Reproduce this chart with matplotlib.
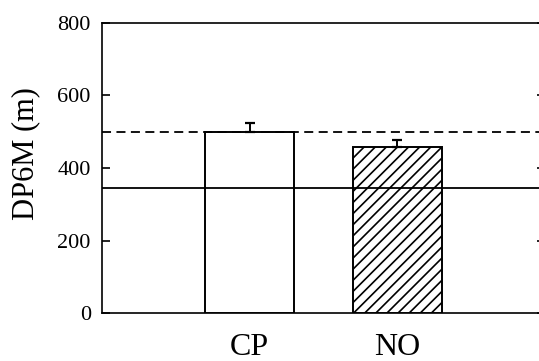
import numpy as np
import matplotlib
matplotlib.use("Agg")
import matplotlib.pyplot as plt

groups = ["CP", "NO"]
means = [499, 457]
errs = [25, 20]
hatches = ["", "///"]
ref_dashed = 500
ref_solid = 345
yticks = [0, 200, 400, 600, 800]

plt.rcParams["font.family"] = ["Liberation Serif", "DejaVu Serif"]
plt.rcParams["hatch.linewidth"] = 1.2

fig = plt.figure(figsize=(5.39, 3.61), dpi=100)
ax = fig.add_axes([0.189, 0.132, 0.822, 0.805])

x = np.arange(1, len(groups) + 1)
for xi, m, e, h in zip(x, means, errs, hatches):
    ax.bar(xi, m, width=0.6, color="white", edgecolor="black",
           linewidth=1.4, hatch=h, zorder=3)
    ax.errorbar(xi, m, yerr=[[0], [e]], fmt="none", ecolor="black",
                elinewidth=1.4, capsize=3.6, capthick=1.6, zorder=4)

# reference lines drawn over the bars
ax.axhline(ref_dashed, color="black", linestyle=(0, (5, 3)), linewidth=1.3, zorder=5)
ax.axhline(ref_solid, color="black", linestyle="-", linewidth=1.3, zorder=5)

ax.set_xlim(0, 3)
ax.set_ylim(0, 800)
ax.set_xticks(x)
ax.set_xticklabels(groups, fontsize=23)
ax.set_yticks(yticks)
ax.tick_params(axis="x", length=0, pad=14)
ax.tick_params(axis="y", direction="in", length=6, width=1.2, labelsize=16,
               pad=8, right=True)
ax.set_ylabel("DP6M (m)", fontsize=22)
ax.yaxis.set_label_coords(-0.14, 0.55)

for s in ax.spines.values():
    s.set_linewidth(1.2)

fig.savefig("out.png", dpi=100)
